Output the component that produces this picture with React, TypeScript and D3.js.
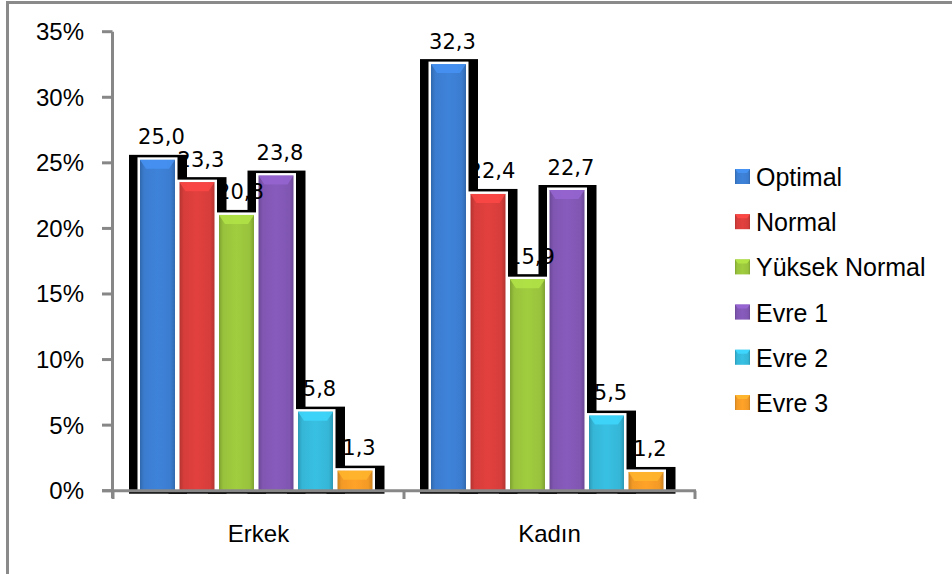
import React from "react";
import * as d3 from "d3";

const categories = ["Erkek", "Kadın"];
const seriesNames = ["Optimal", "Normal", "Yüksek Normal", "Evre 1", "Evre 2", "Evre 3"];
const erkekValues = [25.0, 23.3, 20.8, 23.8, 5.8, 1.3];
const kadinValues = [32.3, 22.4, 15.9, 22.7, 5.5, 1.2];
const yTicks = [0, 5, 10, 15, 20, 25, 30, 35];
const seriesColors = ["#3B7CCF", "#D63D3B", "#98C23C", "#8056B2", "#35B6D7", "#F39A26"];

const W = 952;
const H = 574;

export default function App() {
  const values = [erkekValues, kadinValues];
  const x0 = d3.scaleBand<string>().domain(categories).range([113, 695]).paddingInner(0).paddingOuter(0);
  const bw = x0.bandwidth();
  const x1 = d3.scaleBand<string>().domain(seriesNames).range([27, bw - 27]).paddingInner(0);
  const y = d3.scaleLinear().domain([0, 35]).range([490.7, 31.7]);
  const fillW = x1.step() - 4.5;
  const axisColor = "#878787";
  const base = y(0);

  const bars = categories.flatMap((c, ci) =>
    seriesNames.map((s, si) => {
      const v = values[ci][si];
      const x = (x0(c) as number) + (x1(s) as number);
      const top = y(v) - 3;
      return { c, s, si, v, x, top, color: seriesColors[si] };
    })
  );

  const fmt = (v: number) => v.toFixed(1).replace(".", ",");

  const lighten = (c: string, k: number) => d3.color(c)!.brighter(k).formatHex();
  const darken = (c: string, k: number) => d3.color(c)!.darker(k).formatHex();

  return (
    <svg width={W} height={H} style={{ position: "absolute", left: 0, top: 0 }} fontFamily="'Liberation Sans', Arial, sans-serif">
      <defs>
        {seriesColors.map((c, i) => (
          <linearGradient key={i} id={`g${i}`} x1="0" x2="1" y1="0" y2="0">
            <stop offset="0" stopColor={darken(c, 0.5)} />
            <stop offset="0.12" stopColor={c} />
            <stop offset="0.5" stopColor={lighten(c, 0.15)} />
            <stop offset="0.88" stopColor={c} />
            <stop offset="1" stopColor={darken(c, 0.5)} />
          </linearGradient>
        ))}
      </defs>
      <rect x={0} y={0} width={W} height={H} fill="#fff" />
      <rect x={7.5} y={2.5} width={960} height={620} fill="none" stroke="#8a8a8a" strokeWidth={3} />

      {/* shadows */}
      {bars.map((b, i) => (
        <rect key={`sh${i}`} x={b.x - 11} y={b.top - 5} width={fillW + 23} height={base + 3 - (b.top - 5)} fill="#000" />
      ))}

      {/* bars */}
      {bars.map((b, i) => (
        <g key={`b${i}`}>
          <rect x={b.x - 2.5} y={b.top - 2.5} width={fillW + 5} height={base - b.top + 2.5} fill="#fff" />
          <rect x={b.x} y={b.top} width={fillW} height={base - b.top} fill={`url(#g${b.si})`} />
          <polygon
            points={`${b.x},${b.top} ${b.x + fillW},${b.top} ${b.x + fillW - 6},${b.top + Math.min(9, (base - b.top) / 2)} ${b.x + 6},${b.top + Math.min(9, (base - b.top) / 2)}`}
            fill={lighten(b.color, 0.45)}
            opacity={0.85}
          />
        </g>
      ))}

      {/* axes */}
      <line x1={112.5} x2={112.5} y1={31.7} y2={498} stroke={axisColor} strokeWidth={3} />
      {yTicks.map((t) => (
        <g key={`yt${t}`}>
          <line x1={102} x2={112.5} y1={y(t)} y2={y(t)} stroke={axisColor} strokeWidth={3} />
          <text x={84} y={y(t)} dy="0.35em" textAnchor="end" fontSize={24} fill="#000">
            {t}%
          </text>
        </g>
      ))}
      <line x1={102} x2={696} y1={base} y2={base} stroke={axisColor} strokeWidth={3} />
      {[...categories.map((c) => x0(c) as number), 695].map((xx, i) => (
        <line key={`xt${i}`} x1={xx} x2={xx} y1={base} y2={499} stroke={axisColor} strokeWidth={3} />
      ))}
      {categories.map((c) => (
        <text key={`cl${c}`} x={(x0(c) as number) + bw / 2} y={542} textAnchor="middle" fontSize={24} fill="#000">
          {c}
        </text>
      ))}

      {/* labels */}
      {bars.map((b, i) => (
        <text
          key={`l${i}`}
          x={b.x + fillW / 2 + 4}
          y={y(b.v) - 18.5}
          textAnchor="middle"
          fontSize={21}
          fontFamily="'DejaVu Sans', sans-serif"
          fill="#000"
        >
          {fmt(b.v)}
        </text>
      ))}

      {/* legend */}
      {seriesNames.map((s, i) => {
        const cy = 177 + i * 45.2;
        return (
          <g key={`lg${s}`}>
            <rect x={735} y={cy - 8} width={15} height={15} fill={`url(#g${i})`} />
            <polygon
              points={`735,${cy - 8} 750,${cy - 8} 747,${cy - 4} 738,${cy - 4}`}
              fill={lighten(seriesColors[i], 0.45)}
            />
            <text x={756} y={cy} dy="0.36em" fontSize={25} fill="#000">
              {s}
            </text>
          </g>
        );
      })}
    </svg>
  );
}
